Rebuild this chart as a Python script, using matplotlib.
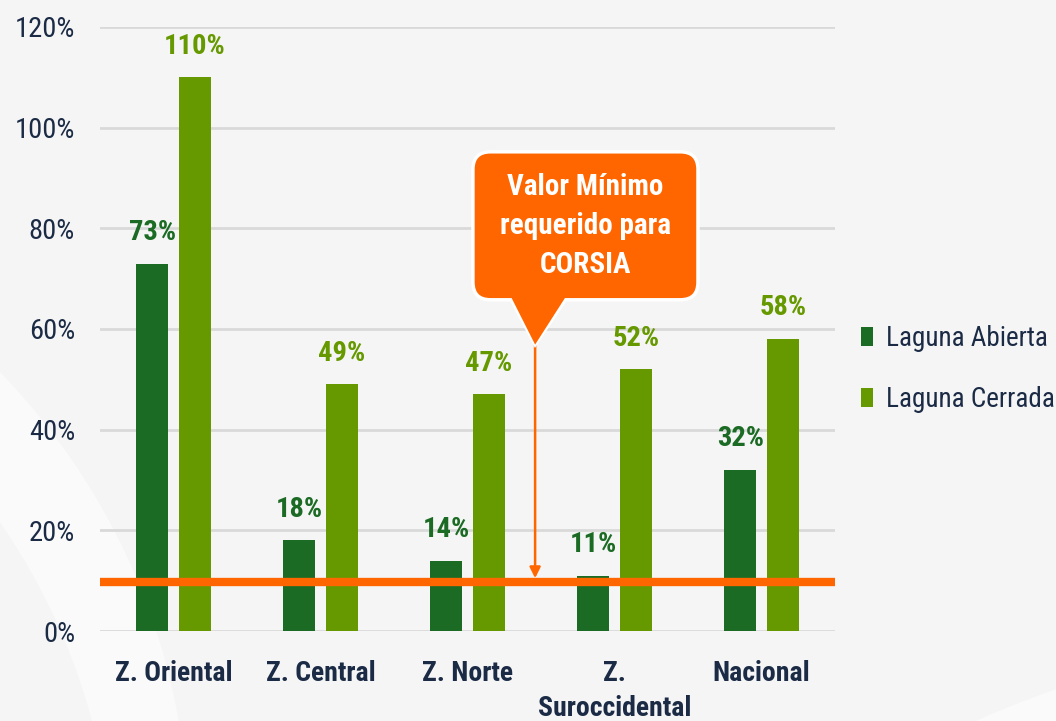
import matplotlib
matplotlib.use("Agg")
import matplotlib.pyplot as plt
import numpy as np
from matplotlib.patches import FancyBboxPatch, Polygon, Patch, Ellipse

categories = ["Z. Oriental", "Z. Central", "Z. Norte", "Z.\nSuroccidental", "Nacional"]
laguna_abierta = [73, 18, 14, 11, 32]
laguna_cerrada = [110, 49, 47, 52, 58]
series_names = ["Laguna Abierta", "Laguna Cerrada"]
y_ticks = [0, 20, 40, 60, 80, 100, 120]
corsia_min = 9.7
callout_text = "Valor Mínimo\nrequerido para\nCORSIA"

DARK = "#1B6B24"
LIGHT = "#669900"
ORANGE = "#FF6600"
NAVY = "#1B2B45"
BG = "#F5F5F5"
FONT = ["Roboto Condensed", "IBM Plex Sans Condensed", "Liberation Sans Narrow", "DejaVu Sans"]

plt.rcParams["font.family"] = FONT

fig = plt.figure(figsize=(10.56, 7.21), dpi=100, facecolor=BG)

# subtle background swooshes
bg = fig.add_axes([0, 0, 1, 1], zorder=-10)
bg.set_xlim(0, 1056); bg.set_ylim(721, 0); bg.axis("off")
bg.add_patch(Ellipse((-650, 900), 1700, 1500, angle=-20, facecolor="white", alpha=0.55, edgecolor="none"))
bg.add_patch(Ellipse((-700, 950), 1650, 1450, angle=-20, facecolor=BG, alpha=1.0, edgecolor="none"))
bg.add_patch(Ellipse((1250, 1100), 1400, 900, angle=-15, facecolor="white", alpha=0.6, edgecolor="none"))
bg.add_patch(Ellipse((1300, 1180), 1300, 820, angle=-15, facecolor=BG, alpha=1.0, edgecolor="none"))

ax = fig.add_axes([0.0947, 0.1248, 0.6960, 0.8378])
ax.set_facecolor("none")

x = np.arange(len(categories))
w = 0.22
off = 0.145
ax.bar(x - off, laguna_abierta, w, color=DARK, zorder=3)
ax.bar(x + off, laguna_cerrada, w, color=LIGHT, zorder=3)

for xi, v in zip(x, laguna_abierta):
    ax.annotate(f"{v}%", (xi - off, v), xytext=(0, 17), textcoords="offset points",
                ha="center", va="baseline", fontsize=20.5, fontweight="bold", color=DARK, zorder=6)
for xi, v in zip(x, laguna_cerrada):
    ax.annotate(f"{v}%", (xi + off, v), xytext=(0, 17), textcoords="offset points",
                ha="center", va="baseline", fontsize=20.5, fontweight="bold", color=LIGHT, zorder=6)

ax.set_xlim(-0.5, len(categories) - 0.5)
ax.set_ylim(0, 120)
ax.set_yticks(y_ticks)
ax.set_yticklabels([f"{t}%" for t in y_ticks], fontsize=20.5, color=NAVY)
ax.set_xticks(x)
ax.set_xticklabels(categories, fontsize=20, fontweight="bold", color=NAVY, va="top")
for lab in ax.get_xticklabels():
    lab.set_linespacing(1.35)
ax.tick_params(axis="y", length=0, pad=18)
ax.tick_params(axis="x", length=0, pad=21)
for s in ax.spines.values():
    s.set_visible(False)
ax.yaxis.grid(True, color="#D9D9D9", linewidth=2, zorder=0)
ax.set_axisbelow(True)

# CORSIA minimum line
ax.axhline(corsia_min, color=ORANGE, linewidth=6, zorder=4, xmin=0, xmax=0.996)

# callout
bx0, bx1, by0, by1 = 2.037, 3.568, 65.8, 95.2
tip_x, tip_y = 2.46, 56.9
aspect = 147.0 / 5.03
box = FancyBboxPatch((bx0, by0), bx1 - bx0, by1 - by0,
                     boxstyle="round,pad=0,rounding_size=0.12", mutation_aspect=aspect,
                     facecolor=ORANGE, edgecolor="white", linewidth=2.5, zorder=7)
ax.add_patch(box)
tri = Polygon([(2.289, by0 + 0.5), (2.677, by0 + 0.5), (tip_x, tip_y)], closed=True,
              facecolor=ORANGE, edgecolor="white", linewidth=2.5, zorder=6)
ax.add_patch(tri)
tri2 = Polygon([(2.289, by0 + 1.0), (2.677, by0 + 1.0), (tip_x, tip_y)], closed=True,
               facecolor=ORANGE, edgecolor="none", zorder=8)
ax.add_patch(tri2)
ax.annotate("", xy=(tip_x, corsia_min + 0.8), xytext=(tip_x, tip_y),
            arrowprops=dict(arrowstyle="-|>", color=ORANGE, lw=1.8, mutation_scale=16,
                            shrinkA=0, shrinkB=0), zorder=5)
ax.text((bx0 + bx1) / 2, (by0 + by1) / 2, callout_text, ha="center", va="center",
        fontsize=21, fontweight="bold", color="white", linespacing=1.5, zorder=9)

handles = [Patch(facecolor=DARK, edgecolor="none"), Patch(facecolor=LIGHT, edgecolor="none")]
fig.legend(handles, series_names, loc="center left", bbox_to_anchor=(0.815, 0.488),
           frameon=False, fontsize=19.5, labelcolor=NAVY, handlelength=0.47, handleheight=0.7,
           handletextpad=0.45, labelspacing=1.25, borderpad=0, borderaxespad=0)

fig.savefig("out.png", dpi=100, facecolor=BG)
